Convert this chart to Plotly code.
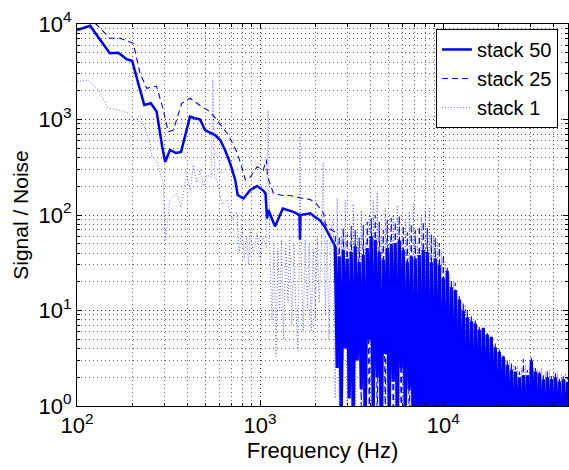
import plotly.graph_objects as go

# smooth low-frequency part of each curve (Hz, signal/noise)
s50_f = [100, 118, 134, 151, 168, 187, 200, 216, 233, 253, 272, 292, 303, 322, 347, 370, 414, 441, 470, 500,
         567, 605, 643, 686, 731, 754, 810, 884, 963, 1040, 1070, 1090, 1110, 1205, 1330, 1520, 1640, 1650, 1660, 1880,
         2000, 2120, 2250, 2400]
s50_v = [8650, 9600, 6800, 4930, 5000, 4270, 4130, 2390, 1420, 1480, 1210, 519, 359, 480, 446, 458, 1070, 1030, 1000, 776,
         688, 610, 480, 348, 233, 162, 149, 183, 201, 180, 168, 92, 113, 76, 117, 108, 100, 55, 100, 104,
         95, 88, 76, 60]

s25_f = [100, 127, 151, 172, 203, 221, 240, 272, 296, 315, 336, 373, 414, 470, 532, 590, 670, 745, 794, 830,
         884, 963, 1040, 1080, 1100, 1180, 1320, 1460, 1690, 1880, 2040, 2220, 2270, 2400]
s25_v = [12500, 10000, 7100, 7100, 6280, 3040, 2120, 2240, 1260, 745, 775, 1480, 1670, 1400, 1210, 950, 690, 460, 320, 233,
         250, 320, 295, 380, 250, 170, 160, 160, 150, 145, 130, 104, 81, 72]

s1_f = [100, 115, 131, 148, 168, 191, 207, 221, 236, 250, 256, 272, 296, 303, 322, 350, 370, 397, 415, 432,
        450, 470, 490, 510, 540, 552, 565, 580, 620, 660, 700, 745, 770, 795, 820, 845, 865, 884, 920, 963,
        1000, 1040, 1080, 1105, 1130,
        1160, 1190, 1220, 1250, 1280, 1310, 1340, 1380, 1420, 1450, 1490, 1530, 1570, 1610, 1640, 1650, 1670,
        1720, 1760, 1810, 1850, 1900, 1950, 2000, 2050, 2100, 2160, 2210, 2270, 2320, 2380, 2440, 2500]
s1_v = [2490, 2590, 2040, 1310, 1260, 1160, 990, 1110, 800, 563, 408, 375, 215, 55, 145, 170, 120, 270, 180, 335,
        220, 300, 200, 262, 250, 2600, 240, 233, 130, 145, 90, 108, 40, 80, 35, 60, 30, 70, 38, 65,
        35, 60, 45, 1250, 43,
        8, 50, 3.3, 45, 10, 55, 5, 48, 12, 58, 7, 50, 9, 3.8, 60, 745, 40,
        6, 55, 10, 50, 6, 45, 8, 60, 12, 50, 350, 9, 55, 5, 70, 90]

# noisy high-frequency part, peaks and dips
freq_hi = [2570, 2635, 2703, 2772, 2842, 2915, 2989, 3065, 3143, 3223,
           3305, 3389, 3476, 3564, 3655, 3748, 3844, 3942, 4042, 4145,
           4251, 4359, 4470, 4584, 4701, 4821, 4943, 5069, 5199, 5331,
           5467, 5606, 5749, 5896, 6046, 6200, 6358, 6520, 6686, 6857,
           7031, 7210, 7394, 7582, 7776, 7974, 8177, 8385, 8599, 8818,
           9042, 9273, 9509, 9751, 10000, 10255, 10516, 10784, 11059, 11341,
           11630, 11926, 12230, 12541, 12861, 13189, 13525, 13869, 14223, 14585,
           14957, 15338, 15729, 16129, 16540, 16962, 17394, 17837, 18292, 18758,
           19236, 19726, 20229, 20744, 21273, 21815, 22371, 22941, 23525, 24125,
           24740, 25370, 26016, 26679, 27359, 28056, 28771, 29504, 30256, 31027,
           31817, 32628, 33459, 34312, 35186, 36083, 37002, 37945, 38912, 39903,
           40920, 41963, 43032, 44128, 45252, 46405, 47587]

s50_hi = [47, 2.5, 37, 0.8, 43, 4, 35, 1.2, 41, 0.6,
          47, 3, 32, 1.5, 38, 0.7, 45, 5, 60, 0.9,
          55, 2, 41, 0.5, 34, 3.5, 45, 0.8, 50, 1.8,
          51, 0.6, 54, 2.5, 43, 0.7, 32, 1.5, 37, 0.4,
          35, 0.3, 38, 0.5, 43, 0.3, 41, 0.4, 32, 0.3,
          35, 0.5, 30, 0.3, 22, 0.4, 26, 0.3, 17.5, 0.4,
          16.4, 0.3, 13, 0.5, 10, 0.3, 8.5, 0.4, 7.7, 0.3,
          7.3, 0.5, 6.3, 0.3, 6.6, 0.4, 5.6, 0.3, 5.3, 0.4,
          4.1, 0.3, 3.7, 0.5, 3.3, 0.3, 2.7, 0.4, 2.4, 0.3,
          2.3, 0.4, 2.0, 0.3, 2.1, 0.4, 2.1, 0.3, 3.0, 0.5,
          2.3, 0.3, 2.2, 0.4, 1.9, 0.3, 2.0, 0.4, 1.9, 0.3,
          2.0, 0.4, 1.8, 0.3, 1.9, 0.4, 1.8]

s25_hi = [66, 3, 60, 1, 73, 5, 63, 1.5, 77, 0.8,
          70, 4, 58, 1, 79, 2, 85, 0.7, 93, 3,
          100, 0.6, 85, 2, 70, 0.8, 89, 4, 93, 0.6,
          85, 1.5, 98, 0.5, 77, 2, 66, 0.5, 81, 0.4,
          70, 0.3, 77, 0.4, 85, 0.3, 73, 0.4, 63, 0.3,
          58, 0.4, 51, 0.3, 38, 0.4, 28, 0.3, 21, 0.4,
          19.5, 0.3, 14.5, 0.4, 12, 0.3, 10.1, 0.4, 9, 0.3,
          7.9, 0.4, 7, 0.3, 6.6, 0.4, 5.8, 0.3, 5.4, 0.4,
          4.5, 0.3, 3.9, 0.4, 3.5, 0.3, 3.0, 0.4, 2.8, 0.3,
          2.6, 0.4, 2.3, 0.3, 3.1, 0.4, 2.4, 0.3, 3.3, 0.4,
          2.5, 0.3, 2.3, 0.4, 2.2, 0.3, 2.3, 0.4, 2.1, 0.3,
          2.2, 0.4, 2.0, 0.3, 2.1, 0.4, 2.0]

s1_hi = [1.2, 150, 0.5, 60, 3, 143, 0.6, 45, 2, 131,
         0.4, 70, 5, 112, 0.8, 50, 1.5, 100, 0.5, 143,
         2.5, 173, 0.4, 60, 1, 118, 0.5, 40, 3, 100,
         0.4, 127, 0.8, 55, 0.3, 93, 1.5, 108, 0.3, 131,
         0.4, 50, 0.3, 100, 0.4, 118, 0.3, 121, 0.4, 60,
         0.3, 55, 0.4, 43, 0.3, 32, 0.4, 23.5, 0.3, 20,
         0.4, 16.4, 0.3, 12.9, 0.4, 11.5, 0.3, 8.5, 0.4, 7.7,
         0.3, 7.0, 0.4, 6.3, 0.3, 5.6, 0.4, 4.9, 0.3, 4.4,
         0.4, 3.7, 0.3, 3.4, 0.4, 3.0, 0.3, 2.9, 0.4, 2.7,
         0.3, 2.6, 0.4, 2.5, 0.3, 2.8, 0.4, 2.6, 0.3, 2.5,
         0.4, 2.4, 0.3, 2.5, 0.4, 2.3, 0.3, 2.4, 0.4, 2.2,
         0.3, 2.3, 0.4, 2.1, 0.3, 2.2, 0.4]

xticks = [100, 1000, 10000]
xlabels = ['10<sup>2</sup>', '10<sup>3</sup>', '10<sup>4</sup>']
yticks = [1, 10, 100, 1000, 10000]
ylabels = ['10<sup>0</sup>', '10<sup>1</sup>', '10<sup>2</sup>', '10<sup>3</sup>', '10<sup>4</sup>']

fig = go.Figure()
fig.add_trace(go.Scatter(x=s50_f + freq_hi[:1], y=s50_v + s50_hi[:1], mode='lines', name='stack 50',
                         legendgroup='s50', line=dict(color='#0000ff', width=2.5, simplify=False)))
fig.add_trace(go.Scatter(x=s25_f + freq_hi, y=s25_v + s25_hi, mode='lines', name='stack 25',
                         line=dict(color='#0000ff', width=1.1, dash='6px,4px', simplify=False)))
fig.add_trace(go.Scatter(x=s1_f + freq_hi, y=s1_v + s1_hi, mode='lines', name='stack 1',
                         line=dict(color='rgba(60,60,255,0.75)', width=1, dash='1px,2px', simplify=False)))
# dense noisy part of stack 50 drawn on top, same series
fig.add_trace(go.Scatter(x=freq_hi, y=s50_hi, mode='lines', name='stack 50', legendgroup='s50',
                         showlegend=False, line=dict(color='#0000ff', width=3.2, simplify=False)))

grid = dict(showgrid=True, gridcolor='rgba(0,0,0,0.6)', gridwidth=1, griddash='1px,3px')
axis_common = dict(type='log', showline=True, linecolor='black', linewidth=1, mirror='ticks',
                   ticks='inside', ticklen=5, tickcolor='black', zeroline=False, automargin=False,
                   tickfont=dict(size=22), **grid,
                   minor=dict(dtick='D1', ticks='inside', ticklen=3, tickcolor='black',
                              showgrid=True, gridcolor='rgba(0,0,0,0.6)', griddash='1px,3px'))

fig.update_xaxes(range=[2, 4.681], tickvals=xticks, ticktext=xlabels,
                 title=dict(text='Frequency (Hz)', font=dict(size=22), standoff=2), **axis_common)
fig.update_yaxes(range=[0, 4], tickvals=yticks, ticktext=ylabels,
                 title=dict(text='Signal / Noise', font=dict(size=21), standoff=4), **axis_common)

fig.update_layout(width=569, height=470, margin=dict(l=77, r=1, t=24, b=64),
                  plot_bgcolor='white', paper_bgcolor='white',
                  font=dict(family='Liberation Sans, Arial, sans-serif', size=21, color='black'),
                  legend=dict(x=0.731, y=0.987, xanchor='left', yanchor='top',
                              bgcolor='white', bordercolor='black', borderwidth=1,
                              font=dict(size=20), tracegroupgap=0))

# page body has a default 8px margin; drop it so the figure sits at the corner
fig.write_html("out.html", config={'displayModeBar': False},
               post_script="document.body.style.margin='0px';")
